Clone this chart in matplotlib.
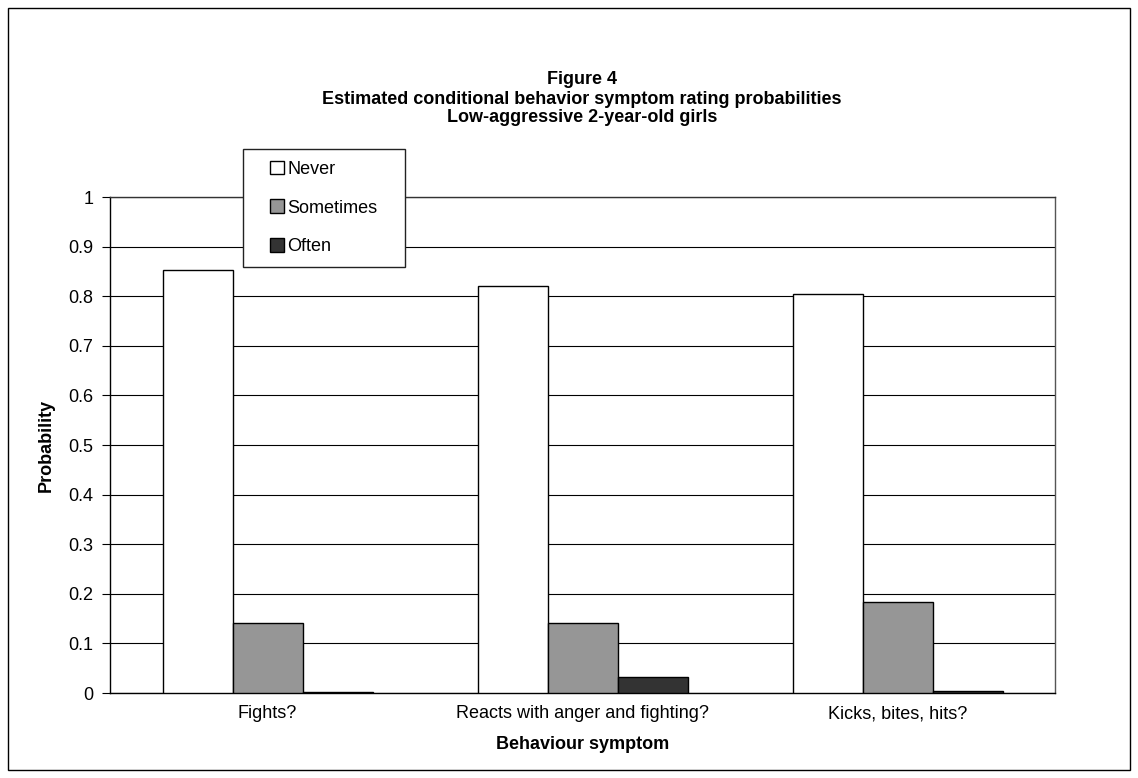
import matplotlib
matplotlib.use("Agg")
import matplotlib.pyplot as plt
import numpy as np
from matplotlib.patches import Rectangle

plt.rcParams['font.family'] = ['Liberation Sans', 'DejaVu Sans']

categories = ["Fights?", "Reacts with anger and fighting?", "Kicks, bites, hits?"]
series_names = ["Never", "Sometimes", "Often"]
never = [0.852, 0.821, 0.804]
sometimes = [0.142, 0.142, 0.184]
often = [0.003, 0.032, 0.005]
colors = ["#ffffff", "#969696", "#333333"]
yticks = [0, 0.1, 0.2, 0.3, 0.4, 0.5, 0.6, 0.7, 0.8, 0.9, 1]
ytick_labels = ["0", "0.1", "0.2", "0.3", "0.4", "0.5", "0.6", "0.7", "0.8", "0.9", "1"]

W, H = 1138, 778
FS = 13
fig = plt.figure(figsize=(W/100, H/100), dpi=100)
fig.patch.set_facecolor("white")
# outer chart border
fig.add_artist(Rectangle((8/W, 8/H), (1130-8)/W, (770-8)/H, transform=fig.transFigure,
                         fill=False, edgecolor="black", linewidth=1))

L, R, T, B = 110, 1055, 197, 693
ax = fig.add_axes([L/W, 1-B/H, (R-L)/W, (B-T)/H])
x = np.arange(len(categories))
bw = 1/4.5
handles = []
for i, (vals, name, c) in enumerate(zip([never, sometimes, often], series_names, colors)):
    h = ax.bar(x + (i-1)*bw, vals, width=bw, color=c, edgecolor="black", linewidth=1,
               label=name, zorder=3)
    handles.append(h)

ax.set_xlim(-0.5, len(categories)-0.5)
ax.set_ylim(0, 1)
ax.set_yticks(yticks)
ax.set_yticklabels(ytick_labels, fontsize=FS)
ax.set_xticks(x)
ax.set_xticklabels(categories, fontsize=FS)
ax.tick_params(axis='x', length=0, pad=9)
ax.tick_params(axis='y', length=6, direction='out', width=0.8, pad=6)
ax.yaxis.grid(True, color="black", linewidth=0.8, zorder=0)
for s in ax.spines.values():
    s.set_linewidth(1)
    s.set_color("black")
ax.spines['right'].set_color("#555555")
ax.spines['top'].set_color("#333333")

ax.set_ylabel("Probability", fontsize=FS, fontweight="bold", labelpad=10)
ax.set_xlabel("Behaviour symptom", fontsize=FS, fontweight="bold", labelpad=10)

tx = 582 / W
fig.text(tx, 1-80/H, "Figure 4", ha="center", va="center", fontsize=FS, fontweight="bold")
fig.text(tx, 1-99/H, "Estimated conditional behavior symptom rating probabilities",
         ha="center", va="center", fontsize=FS, fontweight="bold")
fig.text(tx, 1-118/H, "Low-aggressive 2-year-old girls", ha="center", va="center",
         fontsize=FS, fontweight="bold")

# legend box
bx0, by0, bx1, by1 = 243, 149, 405, 267
fig.add_artist(Rectangle((bx0/W, 1-by1/H), (bx1-bx0)/W, (by1-by0)/H, transform=fig.transFigure,
                         facecolor="white", edgecolor="#222222", linewidth=1, zorder=4))
leg = fig.legend(handles=handles, labels=series_names, loc="center",
                 bbox_to_anchor=(((bx0+bx1)/2)/W, 1-((by0+by1)/2)/H),
                 fontsize=FS, frameon=False, handlelength=0.78, handleheight=0.78,
                 handletextpad=0.17, labelspacing=1.2, borderpad=0)
leg.set_zorder(5)

fig.savefig("out.png", dpi=100, facecolor="white")
